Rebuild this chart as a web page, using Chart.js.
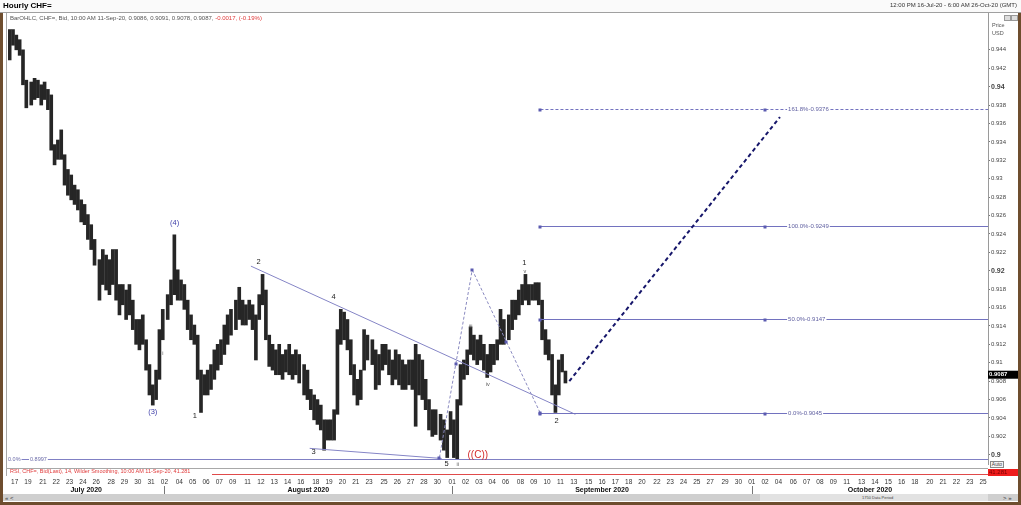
<!DOCTYPE html>
<html><head><meta charset="utf-8">
<script src="https://cdn.jsdelivr.net/npm/chart.js@4.4.0/dist/chart.umd.min.js"></script>
<style>
html,body{margin:0;padding:0;background:#fff;}
#wrap{position:relative;width:1021px;height:505px;overflow:hidden;background:#fff;font-family:"Liberation Sans",Arial,sans-serif;}
canvas{position:absolute;left:0;top:0;}
.t{position:absolute;white-space:nowrap;line-height:1;}
.b{position:absolute;}
</style></head><body>
<div id="wrap">
<canvas id="c" width="1021" height="505"></canvas>
<div class="b" style="left:0;top:0;width:1021px;height:12px;background:#fafafa;border-bottom:1px solid #a0a0a0"></div>
<div class="t" style="left:3px;top:2px;font-size:8px;font-weight:bold;color:#000">Hourly CHF=</div>
<div class="t" style="right:4px;top:2px;font-size:6px;color:#333">12:00 PM 16-Jul-20 - 6:00 AM 26-Oct-20 (GMT)</div>
<div class="t" style="left:10px;top:15px;font-size:6px;color:#555">BarOHLC, CHF=, Bid, 10:00 AM 11-Sep-20, 0.9086, 0.9091, 0.9078, 0.9087, <span style="color:#e03a3a">-0.0017, (-0.19%)</span></div>
<div class="t" style="left:992px;top:21px;font-size:5.5px;color:#555;line-height:8px">Price<br>USD</div>
<div class="b" style="left:1004px;top:15px;width:5px;height:4px;border:1px solid #999;background:#ddd"></div>
<div class="b" style="left:1011px;top:15px;width:5px;height:4px;border:1px solid #999;background:#ddd"></div>
<div class="t" style="left:10px;top:469px;font-size:5.5px;color:#e03a3a">RSI, CHF=, Bid(Last), 14, Wilder Smoothing, 10:00 AM 11-Sep-20, 41.281</div>
<div class="t" style="left:990px;top:461px;width:12px;height:5px;border:1px solid #888;font-size:5px;color:#444;text-align:center;background:#f4f4f4">Auto</div>
<div class="b" style="left:3px;top:494px;width:1015px;height:7px;background:#cfcfcf"></div>
<div class="b" style="left:760px;top:494px;width:228px;height:7px;background:#e2e2e2"></div>
<div class="t" style="left:5px;top:495px;font-size:6px;color:#333">« &lt;</div>
<div class="t" style="left:1003px;top:495px;font-size:6px;color:#333">&gt; »</div>
<div class="t" style="left:862px;top:496px;font-size:4px;color:#444">1750 Data Period</div>
<div class="b" style="left:0;top:13px;width:3px;height:492px;background:#6e4d2e"></div>
<div class="b" style="left:1018px;top:13px;width:3px;height:492px;background:#6e4d2e"></div>
<div class="b" style="left:0;top:502px;width:1021px;height:3px;background:#6e4d2e"></div>
</div>
<script>
// ---------- data ----------
const days = ['2020-07-16','2020-07-17','2020-07-20','2020-07-21','2020-07-22','2020-07-23','2020-07-24',
 '2020-07-27','2020-07-28','2020-07-29','2020-07-30','2020-07-31','2020-08-03','2020-08-04','2020-08-05',
 '2020-08-06','2020-08-07','2020-08-10','2020-08-11','2020-08-12','2020-08-13','2020-08-14','2020-08-17',
 '2020-08-18','2020-08-19','2020-08-20','2020-08-21','2020-08-24','2020-08-25','2020-08-26','2020-08-27',
 '2020-08-28','2020-08-31','2020-09-01','2020-09-02','2020-09-03','2020-09-04','2020-09-07','2020-09-08',
 '2020-09-09','2020-09-10','2020-09-11'];
const barHours = [0, 6, 12, 18];
const highs = [
 [0.9462,0.9462],[0.9456,0.9451,0.9440,0.9407],[0.9405,0.9409,0.9407,0.9402],[0.9405,0.9397,0.9391,0.9337],
 [0.9342,0.9353,0.9326,0.9310],[0.9304,0.9293,0.9288,0.9277],[0.9272,0.9261,0.9250,0.9234],
 [0.9212,0.9223,0.9217,0.9212],[0.9223,0.9223,0.9185,0.9185],[0.9179,0.9185,0.9168,0.9147],
 [0.9147,0.9152,0.9125,0.9098],[0.9076,0.9092,0.9136,0.9158],[0.9174,0.9190,0.9239,0.9201],
 [0.9190,0.9185,0.9168,0.9152],[0.9141,0.9130,0.9092,0.9087],[0.9092,0.9098,0.9114,0.9120],
 [0.9125,0.9141,0.9152,0.9158],[0.9168,0.9182,0.9168,0.9163],[0.9168,0.9163,0.9152,0.9174],
 [0.9196,0.9179,0.9130,0.9120],[0.9114,0.9120,0.9109,0.9114],[0.9120,0.9109,0.9114,0.9109],
 [0.9098,0.9092,0.9071,0.9065],[0.9060,0.9054,0.9038,0.9038],[0.9038,0.9049,0.9136,0.9158],
 [0.9155,0.9147,0.9125,0.9098],[0.9082,0.9092,0.9136,0.9130],[0.9125,0.9114,0.9109,0.9120],
 [0.9120,0.9114,0.9103,0.9114],[0.9109,0.9103,0.9098,0.9103],[0.9103,0.9120,0.9109,0.9103],
 [0.9082,0.9060,0.9049,0.9049],[0.9044,0.9038,0.9027,0.9047],[0.9038,0.9060,0.9098,0.9103],
 [0.9114,0.9139,0.9130,0.9125],[0.9130,0.9120,0.9109,0.9120],[0.9120,0.9125,0.9158,0.9147],
 [0.9152,0.9168,0.9168,0.9179],[0.9185,0.9196,0.9185,0.9185],[0.9187,0.9187,0.9168,0.9136],
 [0.9125,0.9109,0.9076,0.9103],[0.9109,0.9091]];
const lows = [
 [0.9429,0.9445],[0.9440,0.9434,0.9402,0.9377],[0.9380,0.9386,0.9388,0.9380],[0.9386,0.9375,0.9331,0.9315],
 [0.9321,0.9321,0.9293,0.9282],[0.9277,0.9272,0.9266,0.9253],[0.9250,0.9234,0.9223,0.9206],
 [0.9168,0.9185,0.9179,0.9174],[0.9185,0.9168,0.9152,0.9163],[0.9147,0.9152,0.9136,0.9120],
 [0.9114,0.9120,0.9092,0.9065],[0.9054,0.9060,0.9082,0.9125],[0.9147,0.9163,0.9174,0.9168],
 [0.9168,0.9158,0.9136,0.9125],[0.9120,0.9082,0.9046,0.9065],[0.9065,0.9071,0.9082,0.9092],
 [0.9098,0.9109,0.9120,0.9130],[0.9136,0.9147,0.9141,0.9141],[0.9147,0.9136,0.9103,0.9147],
 [0.9163,0.9125,0.9096,0.9092],[0.9087,0.9087,0.9082,0.9090],[0.9087,0.9082,0.9087,0.9078],
 [0.9065,0.9060,0.9049,0.9038],[0.9033,0.9027,0.9005,0.9016],[0.9016,0.9016,0.9044,0.9120],
 [0.9125,0.9114,0.9087,0.9065],[0.9054,0.9060,0.9092,0.9103],[0.9098,0.9071,0.9076,0.9092],
 [0.9098,0.9087,0.9076,0.9082],[0.9076,0.9071,0.9071,0.9076],[0.9071,0.9031,0.9065,0.9060],
 [0.9049,0.9027,0.9020,0.9022],[0.9016,0.9005,0.8997,0.9022],[0.8997,0.8995,0.9054,0.9082],
 [0.9087,0.9109,0.9103,0.9098],[0.9103,0.9092,0.9084,0.9090],[0.9098,0.9103,0.9120,0.9120],
 [0.9125,0.9136,0.9147,0.9152],[0.9163,0.9168,0.9163,0.9168],[0.9168,0.9163,0.9125,0.9109],
 [0.9103,0.9065,0.9046,0.9065],[0.9090,0.9078]];
const lastClose = 0.9087;
const rsiValue = '41.281';

const dayTickDates = ['2020-07-17','2020-07-19','2020-07-21','2020-07-22','2020-07-23','2020-07-24','2020-07-26',
 '2020-07-28','2020-07-29','2020-07-30','2020-07-31','2020-08-02','2020-08-04','2020-08-05','2020-08-06','2020-08-07',
 '2020-08-09','2020-08-11','2020-08-12','2020-08-13','2020-08-14','2020-08-16','2020-08-18','2020-08-19','2020-08-20',
 '2020-08-21','2020-08-23','2020-08-25','2020-08-26','2020-08-27','2020-08-28','2020-08-30','2020-09-01','2020-09-02',
 '2020-09-03','2020-09-04','2020-09-06','2020-09-08','2020-09-09','2020-09-10','2020-09-11','2020-09-13','2020-09-15',
 '2020-09-16','2020-09-17','2020-09-18','2020-09-20','2020-09-22','2020-09-23','2020-09-24','2020-09-25','2020-09-27',
 '2020-09-29','2020-09-30','2020-10-01','2020-10-02','2020-10-04','2020-10-06','2020-10-07','2020-10-08','2020-10-09',
 '2020-10-11','2020-10-13','2020-10-14','2020-10-15','2020-10-16','2020-10-18','2020-10-20','2020-10-21','2020-10-22',
 '2020-10-23','2020-10-25'];
const monthStarts = ['2020-07-01','2020-08-01','2020-09-01','2020-10-01','2020-11-01'];
const monthNames = ['July 2020','August 2020','September 2020','October 2020'];
const priceTicks = [0.900,0.902,0.904,0.906,0.908,0.910,0.912,0.914,0.916,0.918,0.920,0.922,0.924,0.926,
 0.928,0.930,0.932,0.934,0.936,0.938,0.940,0.942,0.944];
const boldTicks = [0.90, 0.92, 0.94];
const rangeStart = '2020-07-16 12:00', rangeEnd = '2020-10-26 06:00';

// annotations (date, price)
const baseLevel = 0.8997;
const fibA = ['2020-08-31 01:00', 0.8997];
const fibB = ['2020-09-02 12:00', 0.9201];
const fibC = ['2020-09-09 12:00', 0.9045];
const fibHandle = '2020-10-02 00:00';
const fibNames = ['0.0%', '50.0%', '100.0%', '161.8%'];
const fibValues = [0.9045, 0.9147, 0.9249, 0.9376];
const trendFrom = [['2020-08-11 06:00', 0.9205], ['2020-08-17 13:00', 0.9007]];
const trendTo = [['2020-09-14 00:00', 0.9044], ['2020-08-31 05:00', 0.8996]];
const projFrom = ['2020-09-11 16:00', 0.9080];
const projTo = ['2020-10-05 00:00', 0.9367];
const waveText = ['(3)','(4)','1','2','3','4','5','ii','((C))','i','iii','iv','1','v','2'];
const waveDate = ['2020-07-31 03:00','2020-08-03 15:30','2020-08-05 04:00','2020-08-11 20:00','2020-08-17 20:00',
 '2020-08-19 08:00','2020-08-31 14:00','2020-09-01 10:00','2020-09-02 22:00','2020-07-31 21:00','2020-09-02 09:00',
 '2020-09-03 16:00','2020-09-08 07:00','2020-09-08 08:00','2020-09-10 17:00'];
const wavePrice = [0.9047,0.9252,0.9042,0.9210,0.9003,0.9172,0.8990,0.8989,0.9000,0.9110,0.9139,0.9076,0.9208,0.9199,0.9037];
const waveKind = ['major','major','minor','minor','minor','minor','minor','sub','red','sub','sub','sub','minor','sub','minor'];

// ---------- trading-day axis (weekends collapsed, Sunday = short session) ----------
const SUN_W = 0.12;
const DAY0 = Date.UTC(2020, 6, 16);
function slotWidth(t){ const wd = new Date(t).getUTCDay(); return wd === 6 ? 0 : (wd === 0 ? SUN_W : 1); }
function toU(s){
  const t = Date.UTC(+s.slice(0,4), +s.slice(5,7)-1, +s.slice(8,10));
  const hh = s.length > 10 ? (+s.slice(11,13) + (+s.slice(14,16))/60) : 0;
  let u = 0;
  for (let d = DAY0; d < t; d += 86400000) u += slotWidth(d);
  return u + slotWidth(t) * hh / 24;
}
const pad2 = n => (n < 10 ? '0' : '') + n;
const xMin = toU(rangeStart), xMax = toU(rangeEnd);

const barData = [];
days.forEach((d, i) => {
  const off = i === 0 ? barHours.length - highs[i].length : 0;
  highs[i].forEach((h, j) => {
    barData.push({x: toU(d + ' ' + pad2(barHours[off + j]) + ':00') + 3/24, y: [lows[i][j], h]});
  });
});
const monthCenters = monthNames.map((m, i) => (Math.max(toU(monthStarts[i]), xMin) + Math.min(toU(monthStarts[i+1]), xMax)) / 2);

const FONT = '"Liberation Sans", Arial, sans-serif';
const isBold = v => boldTicks.some(b => Math.abs(b - v) < 1e-6);

const overlay = {
  id: 'overlay',
  afterDatasetsDraw(chart){
    const {ctx, chartArea: ca, scales} = chart;
    const X = s => scales.x.getPixelForValue(typeof s === 'string' ? toU(s) : s);
    const Y = p => scales.y.getPixelForValue(p);
    const sq = (px, py) => { ctx.fillStyle = '#5b5bb0'; ctx.fillRect(Math.round(px) - 1.5, Math.round(py) - 1.5, 3, 3); };
    const line = (x1, y1, x2, y2) => { ctx.beginPath(); ctx.moveTo(x1, y1); ctx.lineTo(x2, y2); ctx.stroke(); };
    ctx.save();
    ctx.lineWidth = 1;
    const yb = Math.round(Y(baseLevel)) + 1.5;
    ctx.strokeStyle = '#8080c4';
    line(ca.left, yb, ca.right, yb);
    ctx.font = '5.5px ' + FONT; ctx.textBaseline = 'middle'; ctx.textAlign = 'left';
    const bl1 = '0.0%', bl2 = baseLevel.toFixed(4);
    ctx.fillStyle = '#fff';
    ctx.fillRect(ca.left, yb - 3, ctx.measureText(bl1).width + 1, 6);
    ctx.fillRect(ca.left + 21, yb - 3, ctx.measureText(bl2).width + 2, 6);
    ctx.fillStyle = '#6a6aa8';
    ctx.fillText(bl1, ca.left, yb);
    ctx.fillText(bl2, ca.left + 22, yb);
    ctx.strokeStyle = '#8585c6';
    trendFrom.forEach((a, i) => line(X(a[0]), Y(a[1]), X(trendTo[i][0]), Y(trendTo[i][1])));
    const xc = X(fibC[0]), xh = X(fibHandle);
    fibValues.forEach((v, i) => {
      const yy = Math.round(Y(v)) + 0.5;
      ctx.strokeStyle = '#7272bf';
      ctx.setLineDash(fibNames[i] === '161.8%' ? [3, 2] : []);
      line(xc, yy, ca.right, yy);
      ctx.setLineDash([]);
      sq(xc, yy); sq(xh, yy);
      const txt = fibNames[i] + '-' + v.toFixed(4);
      ctx.font = '6px ' + FONT;
      const w = ctx.measureText(txt).width;
      ctx.fillStyle = '#fff'; ctx.fillRect(xh + 22, yy - 3, w + 2, 6);
      ctx.fillStyle = '#5f5fa0'; ctx.fillText(txt, xh + 23, yy);
    });
    const pa = [X(fibA[0]), Y(fibA[1])], pb = [X(fibB[0]), Y(fibB[1])], pc = [X(fibC[0]), Y(fibC[1])];
    ctx.strokeStyle = '#8a8ac0'; ctx.setLineDash([3, 2]);
    line(pa[0], pa[1], pb[0], pb[1]); line(pb[0], pb[1], pc[0], pc[1]);
    ctx.setLineDash([]);
    sq(pa[0], pa[1]); sq(pb[0], pb[1]); sq(pc[0], pc[1]);
    sq((pa[0]+pb[0])/2, (pa[1]+pb[1])/2); sq((pb[0]+pc[0])/2, (pb[1]+pc[1])/2);
    ctx.strokeStyle = '#16166a'; ctx.lineWidth = 2; ctx.setLineDash([4, 3]);
    line(X(projFrom[0]), Y(projFrom[1]), X(projTo[0]), Y(projTo[1]));
    ctx.setLineDash([]); ctx.lineWidth = 1;
    ctx.textAlign = 'center'; ctx.textBaseline = 'middle';
    waveText.forEach((t, i) => {
      const k = waveKind[i];
      ctx.font = (k === 'red' ? '10px ' : k === 'sub' ? '5.5px ' : '7.5px ') + FONT;
      ctx.fillStyle = k === 'major' ? '#3c3ca8' : k === 'red' ? '#d42a2a' : k === 'sub' ? '#555' : '#222';
      ctx.fillText(t, X(waveDate[i]), Y(wavePrice[i]));
    });
    ctx.restore();
  },
  afterDraw(chart){
    const {ctx, chartArea: ca, scales} = chart;
    ctx.save();
    ctx.strokeStyle = '#a8a8a8'; ctx.lineWidth = 1;
    ctx.beginPath();
    ctx.moveTo(6.5, 13); ctx.lineTo(6.5, 476);
    ctx.moveTo(6, 468.5); ctx.lineTo(ca.right, 468.5);
    ctx.stroke();
    ctx.strokeStyle = '#e04a4a';
    ctx.beginPath(); ctx.moveTo(212, 474.5); ctx.lineTo(ca.right, 474.5); ctx.stroke();
    ctx.strokeStyle = '#777';
    monthStarts.slice(1, 4).forEach(m => {
      const px = Math.round(scales.x.getPixelForValue(toU(m))) + 0.5;
      ctx.beginPath(); ctx.moveTo(px, 486); ctx.lineTo(px, 494); ctx.stroke();
    });
    const yp = scales.y.getPixelForValue(lastClose);
    ctx.fillStyle = '#000'; ctx.fillRect(ca.right, yp - 4, 30, 8);
    ctx.fillStyle = '#fff'; ctx.font = 'bold 6px ' + FONT; ctx.textAlign = 'left'; ctx.textBaseline = 'middle';
    ctx.fillText(lastClose.toFixed(4), ca.right + 1, yp);
    ctx.fillStyle = '#ee1c1c'; ctx.fillRect(ca.right, 469, 30, 7);
    ctx.fillStyle = '#7a0000'; ctx.font = '6px ' + FONT;
    ctx.fillText(rsiValue, ca.right + 1, 472.5);
    ctx.restore();
  }
};

new Chart(document.getElementById('c'), {
  type: 'bar',
  data: {datasets: [{data: barData, backgroundColor: '#262626', borderWidth: 0, barThickness: 3.0, grouped: false}]},
  options: {
    responsive: false, animation: false, events: [],
    layout: {padding: {left: 8, right: 0, top: 13, bottom: 9}},
    plugins: {legend: {display: false}, tooltip: {enabled: false}},
    scales: {
      x: {
        type: 'linear', axis: 'x', position: 'bottom', min: xMin, max: xMax, offset: false, bounds: 'data',
        grid: {display: false, drawTicks: false}, border: {display: false},
        afterBuildTicks: s => { s.ticks = dayTickDates.map(d => ({value: toU(d)})); },
        afterFit: s => { s.height = 22; s.paddingLeft = 0; s.paddingRight = 0; },
        ticks: {autoSkip: false, maxRotation: 0, padding: 14, color: '#333', font: {size: 6.5, family: FONT},
          callback: (v, i) => dayTickDates[i] ? dayTickDates[i].slice(8, 10) : ''}
      },
      m: {
        type: 'linear', axis: 'x', position: 'bottom', min: xMin, max: xMax, offset: false, bounds: 'data',
        grid: {display: false, drawTicks: false}, border: {display: false},
        afterBuildTicks: s => { s.ticks = monthCenters.map(v => ({value: v})); },
        afterFit: s => { s.height = 10; s.paddingLeft = 0; s.paddingRight = 0; },
        ticks: {autoSkip: false, maxRotation: 0, padding: 0, color: '#111', font: {size: 7, weight: 'bold', family: FONT},
          callback: (v, i) => monthNames[i] || ''}
      },
      y: {
        type: 'linear', position: 'right', min: 0.899, max: 0.948, bounds: 'data', beginAtZero: false,
        grid: {drawOnChartArea: false, drawTicks: true, tickLength: 2, color: '#777'},
        border: {display: true, color: '#9a9a9a'},
        afterBuildTicks: s => { s.ticks = priceTicks.map(v => ({value: v})); },
        afterFit: s => { s.width = 33; s.paddingTop = 0; s.paddingBottom = 0; },
        ticks: {padding: 1, color: '#444',
          font: c => {
            const b = c && c.tick && isBold(c.tick.value);
            return {size: b ? 7 : 6, weight: b ? 'bold' : 'normal', family: FONT};
          },
          callback: v => String(+(+v).toFixed(3))}
      }
    }
  },
  plugins: [overlay]
});
</script>
</body></html>
